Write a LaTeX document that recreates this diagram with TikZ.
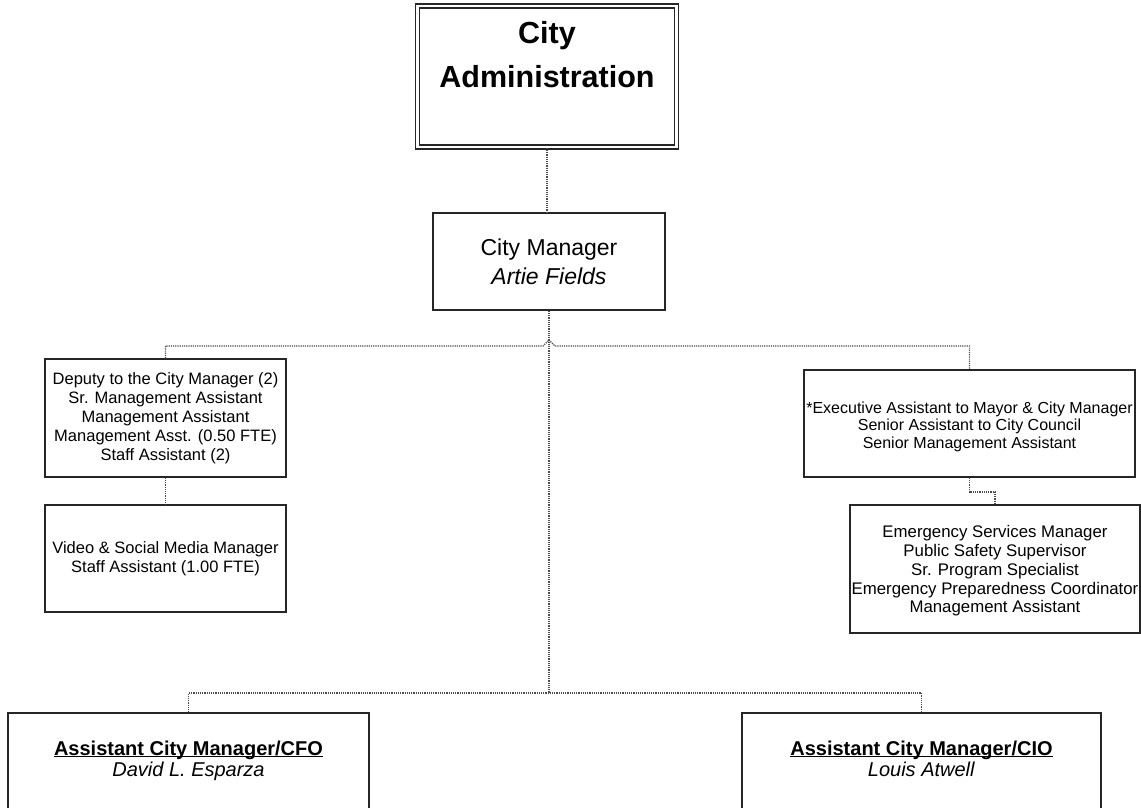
\documentclass[tikz,border=0pt]{standalone}
\usepackage{fontspec}
\setmainfont{Liberation Sans}
% underline that sits just under the baseline
\newcommand{\titleul}[1]{\setbox0\hbox{#1}\rlap{\rule[-2.2pt]{\wd0}{1.3pt}}\box0}
\begin{document}
\begin{tikzpicture}[x=1pt,y=-1pt,
  box/.style={draw=black!85, line width=1.4pt, inner sep=0pt, align=center, fill=white},
  link/.style={draw=black!70, line width=1.3pt, dash pattern=on 1.2pt off 1pt},
  small/.style={font=\fontsize{16.5}{19}\selectfont},
  label/.style={inner sep=0pt, align=center}]
\useasboundingbox (0,0) rectangle (1141,808);
\fill[white] (0,0) rectangle (1141,808);
\clip (0,0) rectangle (1141,808);

% --- boxes ---
\node[box, double, double distance=2.5pt, line width=1.5pt,
      minimum width=259pt, minimum height=141pt] (admin) at (547,76.5) {};
\node[label, font=\fontsize{30.5}{44}\selectfont\bfseries] (adminT) at (547,55) {City\\Administration};

\node[box, minimum width=232pt, minimum height=97pt,
      font=\fontsize{23}{29}\selectfont] (mgr) at (549,261.5)
  {City Manager\\\textit{Artie Fields}};

\node[box, small, minimum width=241pt, minimum height=118pt] (deputy) at (165.5,418)
  {Deputy to the City Manager (2)\\Sr. Management Assistant\\Management Assistant\\
   Management Asst. (0.50 FTE)\\Staff Assistant (2)};

\node[box, small, minimum width=241pt, minimum height=107pt] (video) at (165.5,558.5)
  {Video \& Social Media Manager\\Staff Assistant (1.00 FTE)};

\node[box, minimum width=331pt, minimum height=107pt,
      font=\fontsize{16}{17.5}\selectfont] (exec) at (969.5,423.5)
  {\rule{0pt}{18pt}*Executive Assistant to Mayor \& City Manager\\Senior Assistant to City Council\\
   Senior Management Assistant};

\node[box, minimum width=290pt, minimum height=128pt,
      font=\fontsize{16.8}{18.8}\selectfont] (emerg) at (995,569)
  {\rule{0pt}{16pt}Emergency Services Manager\\Public Safety Supervisor\\Sr. Program Specialist\\
   Emergency Preparedness Coordinator\\Management Assistant};

\node[box, minimum width=361pt, minimum height=110pt] (cfo) at (188.5,768) {};
\node[label, font=\fontsize{20}{21}\selectfont, text depth=5pt] (cfoT) at (188.5,761)
  {\titleul{\textbf{Assistant City Manager/CFO}}\\\textit{David L. Esparza}};

\node[box, minimum width=359pt, minimum height=110pt] (cio) at (921.5,768) {};
\node[label, font=\fontsize{20}{21}\selectfont, text depth=5pt] (cioT) at (921.5,761)
  {\titleul{\textbf{Assistant City Manager/CIO}}\\\textit{Louis Atwell}};

% --- connector points ---
\coordinate (hopL) at (543,346);
\coordinate (hopT) at (549,340);
\coordinate (hopR) at (555,346);
\coordinate (jog) at (969.5,492);
\coordinate (lowbus) at (549,693);

% --- connectors ---
\draw[link] (admin.south) -- (admin.south |- mgr.north);
\draw[link] (mgr.south) -- (lowbus);
\draw[link] (deputy.north) |- (hopL) -- (hopT) -- (hopR) -| (exec.north);
\draw[link] (deputy.south) -- (video.north);
\draw[link] (exec.south) -- (jog) -| (emerg.north);
\draw[link] (cfo.north) |- (lowbus) -| (cio.north);
\end{tikzpicture}
\end{document}
